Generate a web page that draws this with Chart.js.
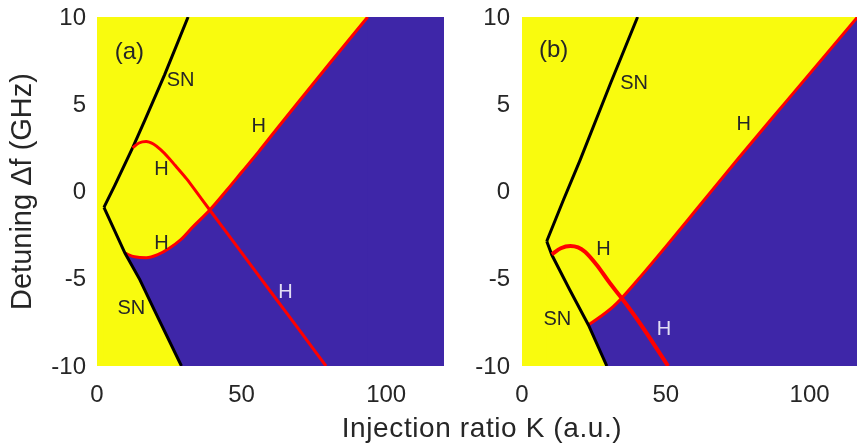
<!DOCTYPE html>
<html>
<head>
<meta charset="utf-8">
<script src="https://cdn.jsdelivr.net/npm/chart.js@4.4.1/dist/chart.umd.min.js"></script>
<style>
  html, body { margin: 0; padding: 0; background: #ffffff; overflow: hidden; }
  #wrap { position: relative; width: 857px; height: 447px; }
  #ca { position: absolute; left: 0; top: 0; }
  #cb { position: absolute; left: 440px; top: 0; }
  #xtitle {
    position: absolute; left: 232px; width: 500px; top: 414px;
    text-align: center; font-family: "Liberation Sans", Arial, sans-serif;
    font-size: 28px; line-height: 28px; letter-spacing: 0.6px; color: #262626;
    white-space: nowrap;
  }
</style>
</head>
<body>
<div id="wrap">
  <canvas id="ca" width="460" height="447"></canvas>
  <canvas id="cb" width="417" height="447"></canvas>
  <div id="xtitle">Injection ratio K (a.u.)</div>
</div>
<script>
// ---------- tick labels ----------
const xTicks = [0, 50, 100];
const yTicks = [-10, -5, 0, 5, 10];
const yTitle = 'Detuning Δf (GHz)';

// ---------- panel (a): [K, Δf] ----------
const aSNUpper = [[2.4, -0.91], [6.2, 0.37], [12.5, 2.57], [16.6, 4.1], [23.4, 6.7], [31.5, 10]];
const aSNLower = [[2.4, -0.91], [9.7, -3.54], [14.8, -5.05], [20, -6.85], [29.2, -10]];
const aHopf1 = [[12.3, 2.5], [14.5, 2.78], [17, 2.87], [19.5, 2.72], [22, 2.4], [24.5, 1.98], [27, 1.5],
                [31, 0.72], [35, -0.17], [39, -1.06], [50, -3.5], [60, -5.73], [70, -7.95], [79.2, -10]];
const aHopf2 = [[9.7, -3.54], [13, -3.74], [17, -3.8], [21, -3.62], [25, -3.25], [29, -2.75], [33, -2.05],
                [39, -1.06], [45, 0.1], [50, 1.1], [56, 2.3], [62, 3.55], [70, 5.2], [80, 7.25], [93.6, 10]];
const aLabels = [['(a)', 11.2, 7.95], ['SN', 28.9, 6.35], ['H', 55.9, 3.7], ['H', 22.3, 1.25],
                 ['H', 22.3, -2.99], ['SN', 11.9, -6.7], ['H', 65.2, -5.78]];

// ---------- panel (b): [K, Δf] ----------
const bSNUpper = [[8.6, -2.85], [14.4, -0.49], [20.2, 1.8], [30.8, 6.2], [40.2, 10]];
const bSNLower = [[8.6, -2.85], [10.4, -3.64], [16.5, -5.6], [23.1, -7.65], [29.5, -10]];
const bHopf1 = [[10.4, -3.6], [13.5, -3.25], [16.8, -3.12], [19.5, -3.2], [21.9, -3.45], [26, -4.21],
                [30.6, -5.26], [34.7, -6.12], [41, -7.55], [50.8, -10]];
const bHopf2 = [[23.1, -7.65], [27.2, -7.18], [31.8, -6.58], [34.7, -6.1], [41, -4.92], [50.3, -3.1],
                [60.7, -1.02], [75.5, 1.95], [91.7, 5.12], [116.7, 10]];
const bLabels = [['(b)', 11.0, 8.1], ['SN', 39.0, 6.18], ['H', 77.1, 3.84], ['H', 28.3, -3.35],
                 ['SN', 12.3, -7.36], ['H', 49.4, -7.9]];

// ---------- styling ----------
const YELLOW = '#F9FB0E';
const BLUE = '#3E26A8';
const TEXT = '#262626';
const LIGHT = '#E2DEF4';
const FONT = '"Liberation Sans", Arial, Helvetica, sans-serif';

const pts = arr => arr.map(p => ({ x: p[0], y: p[1] }));

const notesPlugin = {
  id: 'notes',
  afterDatasetsDraw(chart, args, opts) {
    const { ctx, scales: { x, y } } = chart;
    ctx.save();
    ctx.textAlign = 'center';
    ctx.textBaseline = 'middle';
    opts.items.forEach((it, i) => {
      ctx.font = (it[0].startsWith('(') ? '24px ' : '20px ') + FONT;
      ctx.fillStyle = opts.colors[i];
      ctx.fillText(it[0], x.getPixelForValue(it[1]), y.getPixelForValue(it[2]));
    });
    ctx.restore();
  }
};

function makePanel(canvasId, cfg) {
  const n = cfg.hopf2.length;
  const hopf2Prev = cfg.hopf2[n - 2];
  const hopf2Last = cfg.hopf2[n - 1];
  const datasets = [
    { // plot area background
      data: [{ x: 0, y: 10 }, { x: cfg.xMaxFull, y: 10 }],
      showLine: true, borderWidth: 0, pointRadius: 0, fill: 'start',
      backgroundColor: YELLOW, order: 10, clip: 0
    },
    { // region to the right of the Hopf line end
      data: [{ x: hopf2Prev[0], y: hopf2Prev[1] }, { x: hopf2Last[0], y: 10 }, { x: cfg.xMaxFull, y: 10 }],
      showLine: true, borderWidth: 0, pointRadius: 0, fill: 'start',
      backgroundColor: BLUE, order: 9, clip: 0
    },
    { // Hopf line bounding the blue region
      data: pts(cfg.hopf2), showLine: true, borderColor: '#FF0000', borderWidth: 3,
      pointRadius: 0, fill: 'start', backgroundColor: BLUE,
      cubicInterpolationMode: 'monotone', order: 8, clip: 0
    },
    { // lower saddle-node
      data: pts(cfg.snLower), showLine: true, borderColor: '#000000', borderWidth: 3,
      pointRadius: 0, fill: 'start', backgroundColor: YELLOW, order: 7, clip: 0
    },
    { // upper saddle-node
      data: pts(cfg.snUpper), showLine: true, borderColor: '#000000', borderWidth: 3,
      pointRadius: 0, fill: false, order: 6, clip: 0
    },
    { // other Hopf curve
      data: pts(cfg.hopf1), showLine: true, borderColor: '#FF0000', borderWidth: cfg.h1Width,
      pointRadius: 0, fill: false, cubicInterpolationMode: 'monotone', order: 5, clip: 0
    }
  ];

  return new Chart(document.getElementById(canvasId), {
    type: 'scatter',
    data: { datasets },
    options: {
      responsive: false,
      animation: false,
      events: [],
      layout: { padding: { top: 17, right: cfg.padRight, left: 0, bottom: 0 } },
      plugins: {
        legend: { display: false },
        tooltip: { enabled: false },
        notes: { items: cfg.labels, colors: cfg.labelColors }
      },
      scales: {
        x: {
          type: 'linear', min: 0, max: cfg.xMax,
          grid: { display: false, drawTicks: false },
          border: { display: false },
          afterBuildTicks: s => { s.ticks = xTicks.map(v => ({ value: v })); },
          afterFit: s => { s.height = 81; s.paddingLeft = 0; s.paddingRight = 0; },
          ticks: { color: TEXT, font: { family: FONT, size: 24 }, padding: 15, maxRotation: 0,
                   callback: v => String(v) }
        },
        y: {
          type: 'linear', min: -10, max: 10,
          grid: { display: false, drawTicks: false },
          border: { display: false },
          afterBuildTicks: s => { s.ticks = yTicks.map(v => ({ value: v })); },
          afterFit: s => { s.width = cfg.yWidth; s.paddingTop = 0; s.paddingBottom = 0; },
          ticks: { color: TEXT, font: { family: FONT, size: 24 }, padding: cfg.yPad, labelOffset: 1,
                   callback: v => String(v) },
          title: { display: cfg.showYTitle, text: yTitle, color: TEXT,
                   font: { family: FONT, size: 29 }, padding: { top: 6, bottom: 0 } }
        }
      }
    },
    plugins: [notesPlugin]
  });
}

makePanel('ca', {
  snUpper: aSNUpper, snLower: aSNLower, hopf1: aHopf1, hopf2: aHopf2,
  labels: aLabels, labelColors: [TEXT, TEXT, TEXT, TEXT, TEXT, TEXT, LIGHT],
  xMax: 120, xMaxFull: 120, padRight: 16, yWidth: 97, yPad: 11, showYTitle: true, h1Width: 3
});
makePanel('cb', {
  snUpper: bSNUpper, snLower: bSNLower, hopf1: bHopf1, hopf2: bHopf2,
  labels: bLabels, labelColors: [TEXT, TEXT, TEXT, TEXT, TEXT, LIGHT],
  xMax: 116.5, xMaxFull: 120, padRight: 0, yWidth: 82, yPad: 12, showYTitle: false, h1Width: 4
});
</script>
</body>
</html>
